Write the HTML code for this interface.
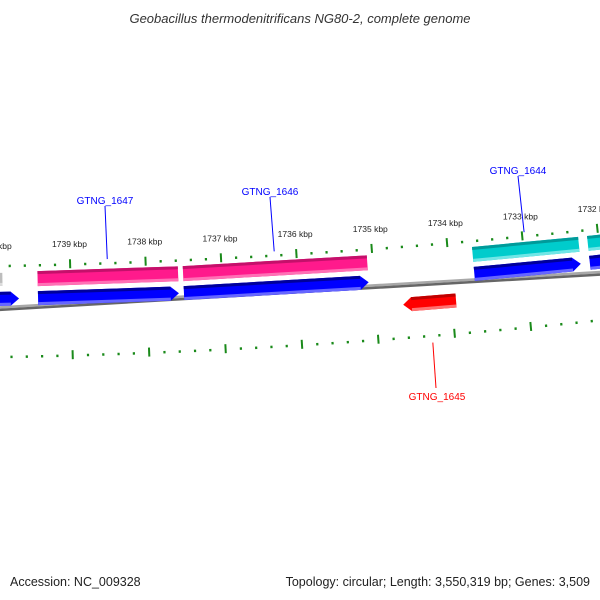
<!DOCTYPE html>
<html><head><meta charset="utf-8"><style>
body{margin:0;background:#fff}
svg{display:block}
text{font-family:"Liberation Sans",sans-serif}
</style></head><body>
<svg id="map" width="600" height="600" viewBox="0 0 600 600">
<rect width="600" height="600" fill="#fff"/>
<text x="300" y="23" text-anchor="middle" font-size="13" font-style="italic" fill="#333">Geobacillus thermodenitrificans NG80-2, complete genome</text>
<g id="layer"></g>
<text x="10" y="586" font-size="12.5" fill="#222">Accession: NC_009328</text>
<text x="590" y="586" text-anchor="end" font-size="12.5" fill="#222">Topology: circular; Length: 3,550,319 bp; Genes: 3,509</text>
</svg>
<script>
// gene data (bp)
const geneNames = ["prev-gray","GTNG_1647","GTNG_1646","GTNG_1644","next-cyan"];
const geneStarts = [1739900,1737577,1735072,1732265,1731700];
const geneEnds   = [1739685,1739435,1737511,1733675,1732146];
const geneColors = ["gray","pink","pink","cyan","cyan"];
const cdsStarts = [1739685,1737577,1735072,1732265,1731700];
const cdsEnds   = [1740200,1739435,1737511,1733675,1732146];
const revStarts = [1733945];
const revEnds   = [1734641];
const revNames  = ["GTNG_1645"];
const tickKbp = [1740,1739,1738,1737,1736,1735,1734,1733,1732];
const tickLabels = ["1740 kbp","1739 kbp","1738 kbp","1737 kbp","1736 kbp","1735 kbp","1734 kbp","1733 kbp","1732 kbp"];
const labelPos = [[105,200],[270,191],[518,170]];
const revLabelPos = [[437,396]];

const NS="http://www.w3.org/2000/svg";
const layer=document.getElementById('layer');
const CX=-125, CY=-6587, R0=6900, PHI0=0.02847, S=1.1017e-5;
function pt(bp,off){const f=PHI0+(1739000-bp)*S;const r=R0+off;return [CX+r*Math.sin(f),CY+r*Math.cos(f)];}
function mk(tag,attrs){const e=document.createElementNS(NS,tag);for(const k in attrs)e.setAttribute(k,attrs[k]);layer.appendChild(e);return e;}
function poly(pts,fill){return mk('polygon',{points:pts.map(p=>p[0].toFixed(2)+','+p[1].toFixed(2)).join(' '),fill:fill});}
// band from bp a (left, higher bp) to b (right, lower bp)
function band(hi,lo,o1,o2,fill,arrow){
  const ah=110;let pts;
  if(arrow==='right'){const m=(o1+o2)/2;pts=[pt(hi,o1),pt(lo+ah,o1),pt(lo,m),pt(lo+ah,o2),pt(hi,o2)];}
  else if(arrow==='left'){const m=(o1+o2)/2;pts=[pt(hi,o1),pt(lo,o1),pt(lo,o2),pt(hi-ah,o2),pt(hi,m),pt(hi-ah,o1)];
    pts=[pt(hi-ah,o1),pt(lo,o1),pt(lo,o2),pt(hi-ah,o2),pt(hi,m)];}
  else pts=[pt(hi,o1),pt(lo,o1),pt(lo,o2),pt(hi,o2)];
  return poly(pts,fill);
}
const pal={gray:["#bdbdbd","#999","#dcdcdc"],pink:["#ff1a8c","#c4106b","#ff70b5"],cyan:["#00cccc","#009a9a","#70e6e6"],blue:["#0000ff","#00009a","#6666ff"],red:["#ff0000","#c00000","#ff7070"]};
function shaded(hi,lo,o1,o2,col,arrow,name){
  const g=band(hi,lo,o1,o2,pal[col][0],arrow);
  const t=band(hi,lo,o1,o1+3,pal[col][1],arrow==='right'?'none':arrow==='left'?'none':'none');
  const tl=arrow==='right'?lo+110:lo; const th=arrow==='left'?hi-110:hi;
  t.remove();
  const top=poly([pt(th,o1),pt(tl,o1),pt(tl,o1+3),pt(th,o1+3)],pal[col][1]);
  
  
  const bot=poly([pt(th,o2-3),pt(tl,o2-3),pt(tl,o2),pt(th,o2)],pal[col][2]);
  
  
}
// backbone
{const a=2,b=1731500;
 const p1=poly([pt(1741000,-2),pt(b,-2),pt(b,0.5),pt(1741000,0.5)],"#a8a8a8");
 
 
 const p2=poly([pt(1741000,0.5),pt(b,0.5),pt(b,3),pt(1741000,3)],"#666");
 
 }
// ticks
function tickTrack(off,labels,prefix){
  for(let bp=1731400;bp<=1740600;bp+=200){
    const major=bp%1000===0;
    if(major){const a=pt(bp,off-5),b=pt(bp,off+4);
      const l=mk('line',{x1:a[0],y1:a[1],x2:b[0],y2:b[1],stroke:'#1a8a1a','stroke-width':2});
      
      }
    else{const a=pt(bp,off-1),b=pt(bp,off+1.5);
      const l=mk('line',{x1:a[0],y1:a[1],x2:b[0],y2:b[1],stroke:'#1a8a1a','stroke-width':2.2});
      
      }
  }
  if(labels){tickKbp.forEach((k,i)=>{const p=pt(k*1000,off-20);
    const t=mk('text',{x:p[0],y:p[1]+3,'text-anchor':'middle','font-size':'8.5',fill:'#222'});
    t.textContent=tickLabels[i];
    
    });}
}
tickTrack(-46,true,'upper');
tickTrack(45,false,'lower');
// CDS blue
cdsStarts.forEach((lo,i)=>shaded(cdsEnds[i],lo,-20,-6,'blue','right','cds-'+i));
// genes upper
geneStarts.forEach((lo,i)=>{if(i===0){const g=band(1740200,lo,-39,-26,pal.gray[0],'none');const t=poly([pt(1740200,-26),pt(lo,-26),pt(lo,-29),pt(1740200,-29)],pal.gray[2]);}
  else shaded(geneEnds[i],lo,-40,-25,geneColors[i],'none','gene-'+geneNames[i]);});
// reverse gene
revStarts.forEach((lo,i)=>shaded(revEnds[i],lo,5,19,'red','left','gene-'+revNames[i]));
// labels
[1,2,3].forEach((gi,j)=>{const mid=(geneStarts[gi]+geneEnds[gi])/2;const a=pt(mid,-50);const lp=labelPos[j];
  const l=mk('line',{x1:a[0],y1:a[1],x2:lp[0],y2:lp[1]+6,stroke:'#0000ff','stroke-width':1});
  
  
  const t=mk('text',{x:lp[0],y:lp[1]+4,'text-anchor':'middle','font-size':'10',fill:'#0000ff'});
  t.textContent=geneNames[gi];
  
  });
revStarts.forEach((lo,i)=>{const mid=(lo+revEnds[i])/2;const a=pt(mid,52);const lp=revLabelPos[i];
  const l=mk('line',{x1:a[0],y1:a[1],x2:lp[0]-1,y2:lp[1]-8,stroke:'#ff0000','stroke-width':1});
  
  
  const t=mk('text',{x:lp[0],y:lp[1]+4,'text-anchor':'middle','font-size':'10',fill:'#ff0000'});
  t.textContent=revNames[i];
  
  });
</script>
</body></html>
